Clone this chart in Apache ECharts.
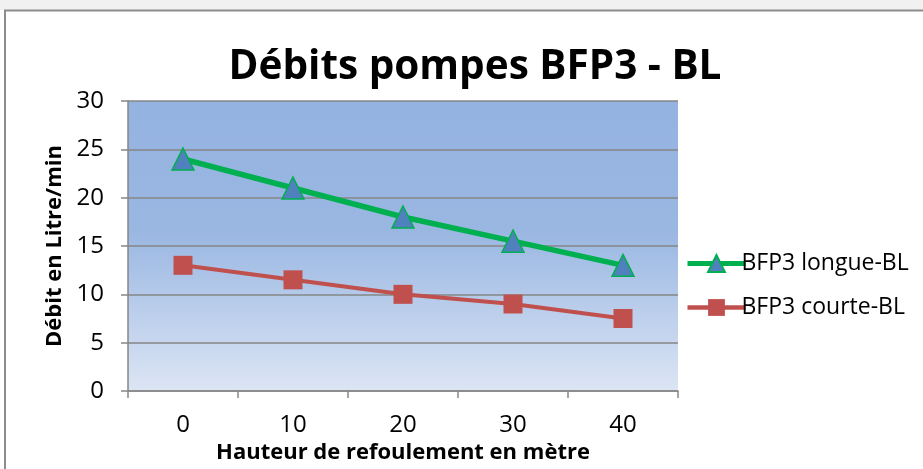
<!DOCTYPE html>
<html><head><meta charset="utf-8">
<script src="https://cdn.jsdelivr.net/npm/echarts@6/dist/echarts.min.js"></script>
<style>html,body{margin:0;padding:0;background:#fff}#c{width:923px;height:469px}</style>
</head><body><div id="c"></div>
<script>
const categories = ['0', '10', '20', '30', '40'];
const longueValues = [24, 21, 18, 15.5, 13];
const courteValues = [13, 11.5, 10, 9, 7.5];
const seriesNames = ['BFP3 longue-BL', 'BFP3 courte-BL'];
const titleText = 'Débits pompes BFP3 - BL';
const xName = 'Hauteur de refoulement en mètre';
const yName = 'Débit en Litre/min';

const font = '"Open Sans", "Noto Sans", sans-serif';
const chart = echarts.init(document.getElementById('c'));
chart.setOption({
  animation: false,
  backgroundColor: '#fff',
  graphic: [
    {type: 'rect', shape: {x: 0, y: 0, width: 923, height: 10}, style: {fill: '#f1f1f1'}, z: -1},
    {type: 'rect', shape: {x: 5, y: 10.5, width: 930, height: 470}, style: {fill: 'none', stroke: '#8c8c8c', lineWidth: 2}, z: 100}
  ],
  title: {
    text: titleText, left: 470, top: 42, textAlign: 'center',
    textStyle: {fontFamily: font, fontSize: 40.5, fontWeight: 'bold', color: '#000'}
  },
  legend: {
    orient: 'vertical', left: 680, top: 247, itemGap: 21, itemWidth: 58, itemHeight: 21,
    textStyle: {fontFamily: font, fontSize: 23, color: '#000', padding: [0, 0, 0, -9]},
    data: [
      {name: seriesNames[0], lineStyle: {width: 5, color: '#00b050'}},
      {name: seriesNames[1], lineStyle: {width: 4.5, color: '#c0504d'}}
    ]
  },
  grid: {left: 128, top: 101, width: 550, height: 292, containLabel: false,
    show: true, borderWidth: 0,
    backgroundColor: {type: 'linear', x: 0, y: 0, x2: 0, y2: 1, colorStops: [
      {offset: 0, color: '#95b3e1'}, {offset: 0.45, color: '#9ab7e2'}, {offset: 1, color: '#dce5f4'}]}
  },
  xAxis: {
    type: 'category', data: categories, boundaryGap: true,
    name: xName, nameLocation: 'middle', nameGap: 51,
    nameTextStyle: {fontFamily: font, fontSize: 22, fontWeight: 'bold', color: '#000'},
    axisLine: {lineStyle: {color: '#868686', width: 1.5}},
    axisTick: {show: true, length: 7, inside: false, lineStyle: {color: '#868686', width: 1.5}},
    axisLabel: {fontFamily: font, fontSize: 24, color: '#000', margin: 22},
    splitLine: {show: false}
  },
  yAxis: {
    type: 'value', min: 0, max: 30, interval: 5,
    name: yName, nameLocation: 'middle', nameGap: 56, nameRotate: 90,
    nameTextStyle: {fontFamily: font, fontSize: 22, fontWeight: 'bold', color: '#000'},
    axisLine: {show: true, lineStyle: {color: '#868686', width: 1.5}},
    axisTick: {show: true, length: 7, lineStyle: {color: '#868686', width: 1.5}},
    axisLabel: {fontFamily: font, fontSize: 24, color: '#000', margin: 24},
    splitLine: {show: true, lineStyle: {color: '#868686', width: 1.5}}
  },
  series: [
    {name: seriesNames[0], type: 'line', data: longueValues, symbol: 'triangle', symbolSize: 22,
      lineStyle: {color: '#00b050', width: 5.5}, itemStyle: {color: '#4f81bd', borderColor: '#00b050', borderWidth: 1.5},
      z: 3},
    {name: seriesNames[1], type: 'line', data: courteValues, symbol: 'rect', symbolSize: 19,
      lineStyle: {color: '#c0504d', width: 4}, itemStyle: {color: '#c0504d', borderColor: '#c0504d', borderWidth: 0},
      z: 2}
  ]
});
</script></body></html>
